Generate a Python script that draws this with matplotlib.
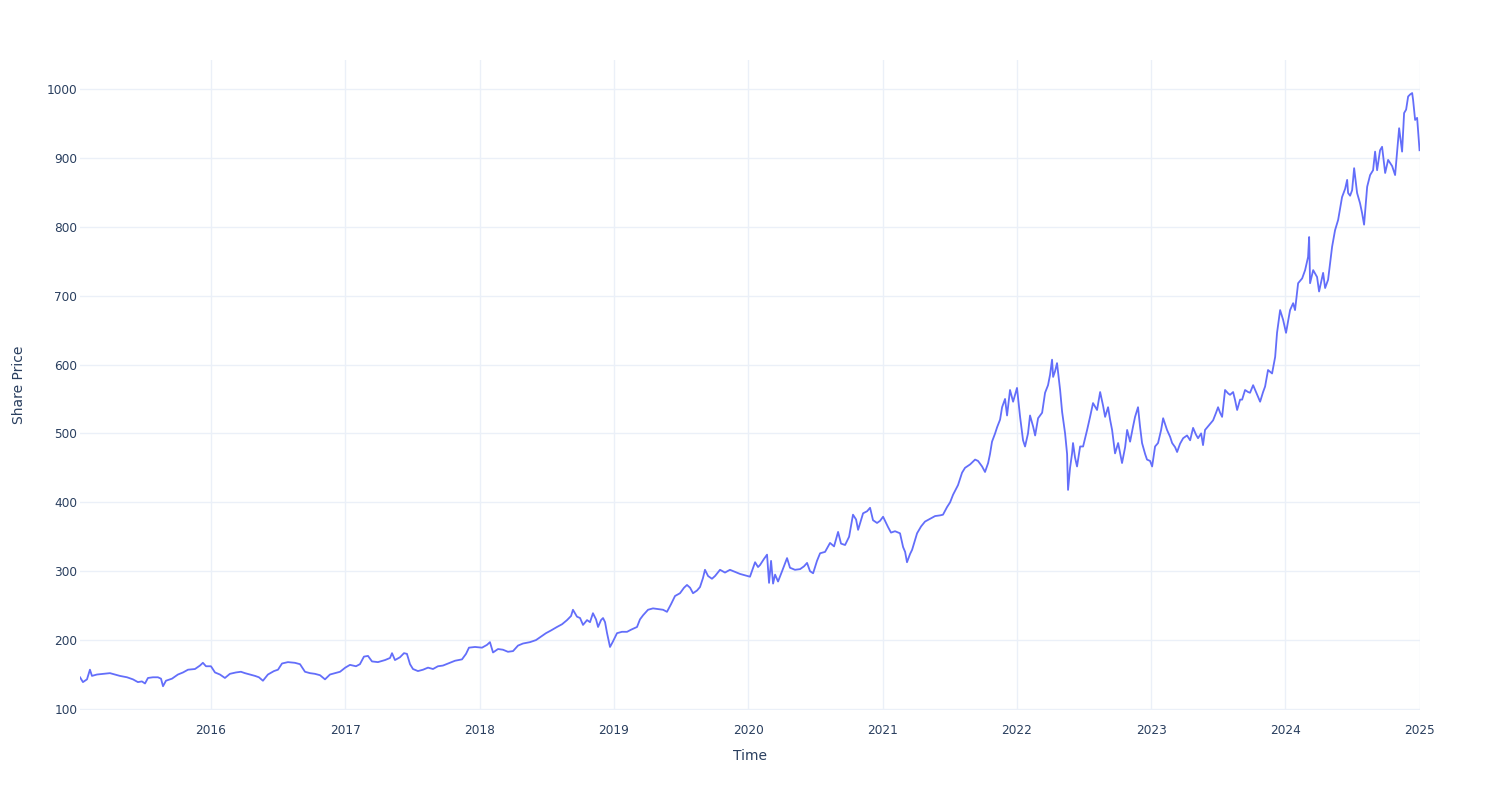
import numpy as np
import pandas as pd
import matplotlib.pyplot as plt
import matplotlib.dates as mdates

# decimal year / share price
years = [
    2015.025, 2015.047, 2015.077, 2015.099, 2015.114, 2015.151, 2015.196, 2015.248, 2015.285, 2015.322,
    2015.375, 2015.419, 2015.456, 2015.486, 2015.509, 2015.531, 2015.568, 2015.605, 2015.628, 2015.643,
    2015.665, 2015.710, 2015.754, 2015.792, 2015.829, 2015.881, 2015.918, 2015.940, 2015.963,
    2016.000, 2016.030, 2016.067, 2016.104, 2016.141, 2016.186, 2016.223, 2016.253, 2016.290, 2016.328,
    2016.357, 2016.387, 2016.424, 2016.469, 2016.499, 2016.529, 2016.573, 2016.625, 2016.663, 2016.700,
    2016.737, 2016.774, 2016.812, 2016.849, 2016.886, 2016.923, 2016.961,
    2017.000, 2017.035, 2017.080, 2017.109, 2017.139, 2017.169, 2017.199, 2017.243, 2017.296, 2017.333,
    2017.348, 2017.370, 2017.407, 2017.437, 2017.459, 2017.482, 2017.504, 2017.541, 2017.579, 2017.616,
    2017.653, 2017.690, 2017.727, 2017.765, 2017.817, 2017.869, 2017.899, 2017.921, 2017.966,
    2018.018, 2018.055, 2018.077, 2018.100, 2018.137, 2018.174, 2018.211, 2018.249, 2018.286, 2018.323,
    2018.375, 2018.420, 2018.457, 2018.494, 2018.532, 2018.576, 2018.614, 2018.651, 2018.681, 2018.695,
    2018.725, 2018.748, 2018.770, 2018.800, 2018.822, 2018.844, 2018.867, 2018.882, 2018.904, 2018.919,
    2018.934, 2018.949, 2018.971, 2018.993,
    2019.023, 2019.060, 2019.098, 2019.127, 2019.172, 2019.194, 2019.217, 2019.254, 2019.291, 2019.328,
    2019.366, 2019.395, 2019.425, 2019.455, 2019.492, 2019.522, 2019.544, 2019.567, 2019.589, 2019.619,
    2019.641, 2019.663, 2019.678, 2019.701, 2019.730, 2019.753, 2019.790, 2019.827, 2019.864, 2019.902,
    2019.939, 2019.976,
    2020.013, 2020.051, 2020.073, 2020.088, 2020.118, 2020.140, 2020.155, 2020.170, 2020.185, 2020.200,
    2020.222, 2020.252, 2020.289, 2020.311, 2020.348, 2020.386, 2020.415, 2020.438, 2020.460, 2020.483,
    2020.512, 2020.535, 2020.572, 2020.609, 2020.639, 2020.669, 2020.691, 2020.721, 2020.751, 2020.780,
    2020.803, 2020.818, 2020.840, 2020.855, 2020.885, 2020.907, 2020.929, 2020.959, 2020.981,
    2021.004, 2021.026, 2021.041, 2021.063, 2021.093, 2021.130, 2021.153, 2021.168, 2021.182, 2021.205,
    2021.220, 2021.242, 2021.257, 2021.287, 2021.316, 2021.354, 2021.391, 2021.428, 2021.450, 2021.480,
    2021.503, 2021.525, 2021.562, 2021.592, 2021.614, 2021.652, 2021.689, 2021.711, 2021.741, 2021.763,
    2021.786, 2021.800, 2021.815, 2021.838, 2021.853, 2021.875, 2021.890, 2021.912, 2021.927, 2021.949,
    2021.972,
    2022.001, 2022.024, 2022.046, 2022.061, 2022.083, 2022.098, 2022.121, 2022.136, 2022.158, 2022.188,
    2022.210, 2022.232, 2022.247, 2022.262, 2022.270, 2022.284, 2022.299, 2022.322, 2022.337, 2022.359,
    2022.374, 2022.381, 2022.396, 2022.411, 2022.418, 2022.433, 2022.448, 2022.471, 2022.493, 2022.523,
    2022.545, 2022.567, 2022.597, 2022.620, 2022.642, 2022.657, 2022.679, 2022.694, 2022.709, 2022.731,
    2022.754, 2022.783, 2022.806, 2022.821, 2022.843, 2022.865, 2022.880, 2022.902, 2022.917, 2022.932,
    2022.955, 2022.969, 2022.992,
    2023.007, 2023.029, 2023.051, 2023.074, 2023.089, 2023.118, 2023.141, 2023.156, 2023.178, 2023.193,
    2023.215, 2023.238, 2023.267, 2023.290, 2023.312, 2023.334, 2023.349, 2023.372, 2023.386, 2023.401,
    2023.431, 2023.461, 2023.483, 2023.498, 2023.513, 2023.528, 2023.550, 2023.573, 2023.587, 2023.610,
    2023.625, 2023.640, 2023.662, 2023.677, 2023.699, 2023.722, 2023.736, 2023.759, 2023.789, 2023.811,
    2023.833, 2023.848, 2023.870, 2023.900, 2023.923, 2023.937, 2023.960, 2023.982,
    2024.004, 2024.034, 2024.057, 2024.071, 2024.094, 2024.124, 2024.146, 2024.168, 2024.176, 2024.183,
    2024.206, 2024.235, 2024.250, 2024.280, 2024.295, 2024.317, 2024.347, 2024.369, 2024.392, 2024.421,
    2024.444, 2024.459, 2024.466, 2024.481, 2024.496, 2024.511, 2024.533, 2024.555, 2024.570, 2024.585,
    2024.608, 2024.630, 2024.652, 2024.667, 2024.682, 2024.704, 2024.719, 2024.742, 2024.764, 2024.794,
    2024.816, 2024.846, 2024.868, 2024.883, 2024.898, 2024.913, 2024.928, 2024.943, 2024.950, 2024.965,
    2024.980, 2024.998,
]

prices = [
    146, 139, 143, 157, 148, 150, 151, 152, 150, 148,
    146, 143, 139, 140, 137, 145, 146, 146, 144, 133,
    141, 144, 150, 153, 157, 158, 163, 167, 162,
    162, 153, 150, 145, 151, 153, 154, 152, 150, 148,
    146, 141, 150, 155, 157, 166, 168, 167, 165, 154,
    152, 151, 149, 143, 150, 152, 154,
    160, 164, 162, 165, 176, 177, 169, 168, 171, 174,
    181, 171, 175, 181, 180, 165, 158, 155, 157, 160,
    158, 162, 163, 166, 170, 172, 180, 189, 190,
    189, 193, 197, 182, 187, 186, 183, 184, 192, 195,
    197, 200, 205, 210, 214, 219, 223, 229, 235, 244,
    234, 232, 222, 229, 226, 239, 230, 219, 229, 232,
    226, 210, 190, 198,
    210, 212, 212, 215, 219, 230, 236, 244, 246, 245,
    244, 241, 252, 264, 268, 276, 280, 276, 268, 272,
    277, 290, 302, 293, 289, 293, 302, 298, 302, 299,
    296, 294,
    292, 313, 306, 309, 318, 324, 283, 315, 282, 295,
    285, 300, 319, 305, 302, 303, 307, 312, 300, 297,
    315, 326, 328, 341, 336, 357, 340, 338, 350, 382,
    375, 360, 374, 384, 387, 392, 374, 370, 373,
    379, 370, 364, 356, 358, 355, 335, 328, 313, 325,
    331, 345, 355, 365, 372, 376, 380, 381, 382, 393,
    400, 411, 425, 443, 450, 455, 462, 460, 452, 444,
    457, 470, 488, 500, 509, 520, 538, 550, 526, 563,
    546,
    566, 524, 490, 481, 500, 526, 510, 497, 522, 530,
    559, 570, 585, 607, 582, 590, 602, 563, 531, 500,
    470, 418, 450, 471, 486, 465, 452, 481, 481, 505,
    524, 544, 534, 560, 540, 524, 538, 520, 505, 471,
    486, 457, 480, 505, 488, 510, 524, 538, 510, 486,
    470, 462, 460,
    452, 481, 486, 505, 522, 505, 495, 486, 480, 473,
    485, 493, 497, 490, 508, 498, 493, 500, 483, 505,
    512, 519, 530, 538, 530, 524, 563, 558, 556, 560,
    548, 534, 549, 549, 563, 560, 559, 570, 556, 546,
    560, 568, 592, 587, 611, 646, 679, 665,
    646, 679, 689, 679, 718, 725, 737, 756, 785, 718,
    737, 727, 706, 733, 711, 723, 771, 795, 810, 843,
    855, 868, 849, 845, 853, 885, 849, 834, 820, 803,
    858, 875, 882, 909, 882, 911, 916, 878, 897, 888,
    875, 943, 909, 965, 970, 989, 992, 994, 984, 955,
    958, 911,
]

x_ticks = [2016, 2017, 2018, 2019, 2020, 2021, 2022, 2023, 2024, 2025]
y_ticks = [100, 200, 300, 400, 500, 600, 700, 800, 900, 1000]

def to_dates(yrs):
    yrs = np.asarray(yrs, dtype=float)
    return pd.Timestamp("2015-01-01") + pd.to_timedelta((yrs - 2015) * 365.25, unit="D")

dates = to_dates(years)

plt.rcParams['font.family'] = ['DejaVu Sans']
text_col = '#2a3f5f'
grid_col = '#ebf0f8'

fig = plt.figure(figsize=(15, 8), dpi=100)
ax = fig.add_axes([80 / 1500, 1 - 710 / 800, 1340 / 1500, 650 / 800])

ax.plot(dates, prices, color='#636efa', lw=1.3)

ax.set_xlim(dates[0], dates[-1])
ax.set_ylim(98.5, 1042)

ax.set_xticks([pd.Timestamp(f"{y}-01-01") for y in x_ticks])
ax.xaxis.set_major_formatter(mdates.DateFormatter('%Y'))
ax.set_yticks(y_ticks)

ax.grid(True, color=grid_col, lw=1)
ax.set_axisbelow(True)
for s in ax.spines.values():
    s.set_visible(False)
ax.tick_params(length=0, labelsize=8.7, colors=text_col)
ax.tick_params(axis='x', pad=10)
ax.tick_params(axis='y', pad=2)

ax.set_xlabel('Time', fontsize=10, color=text_col, labelpad=9)
ax.set_ylabel('Share Price', fontsize=10, color=text_col, labelpad=15)

fig.savefig('out.png', dpi=100, facecolor='white')
